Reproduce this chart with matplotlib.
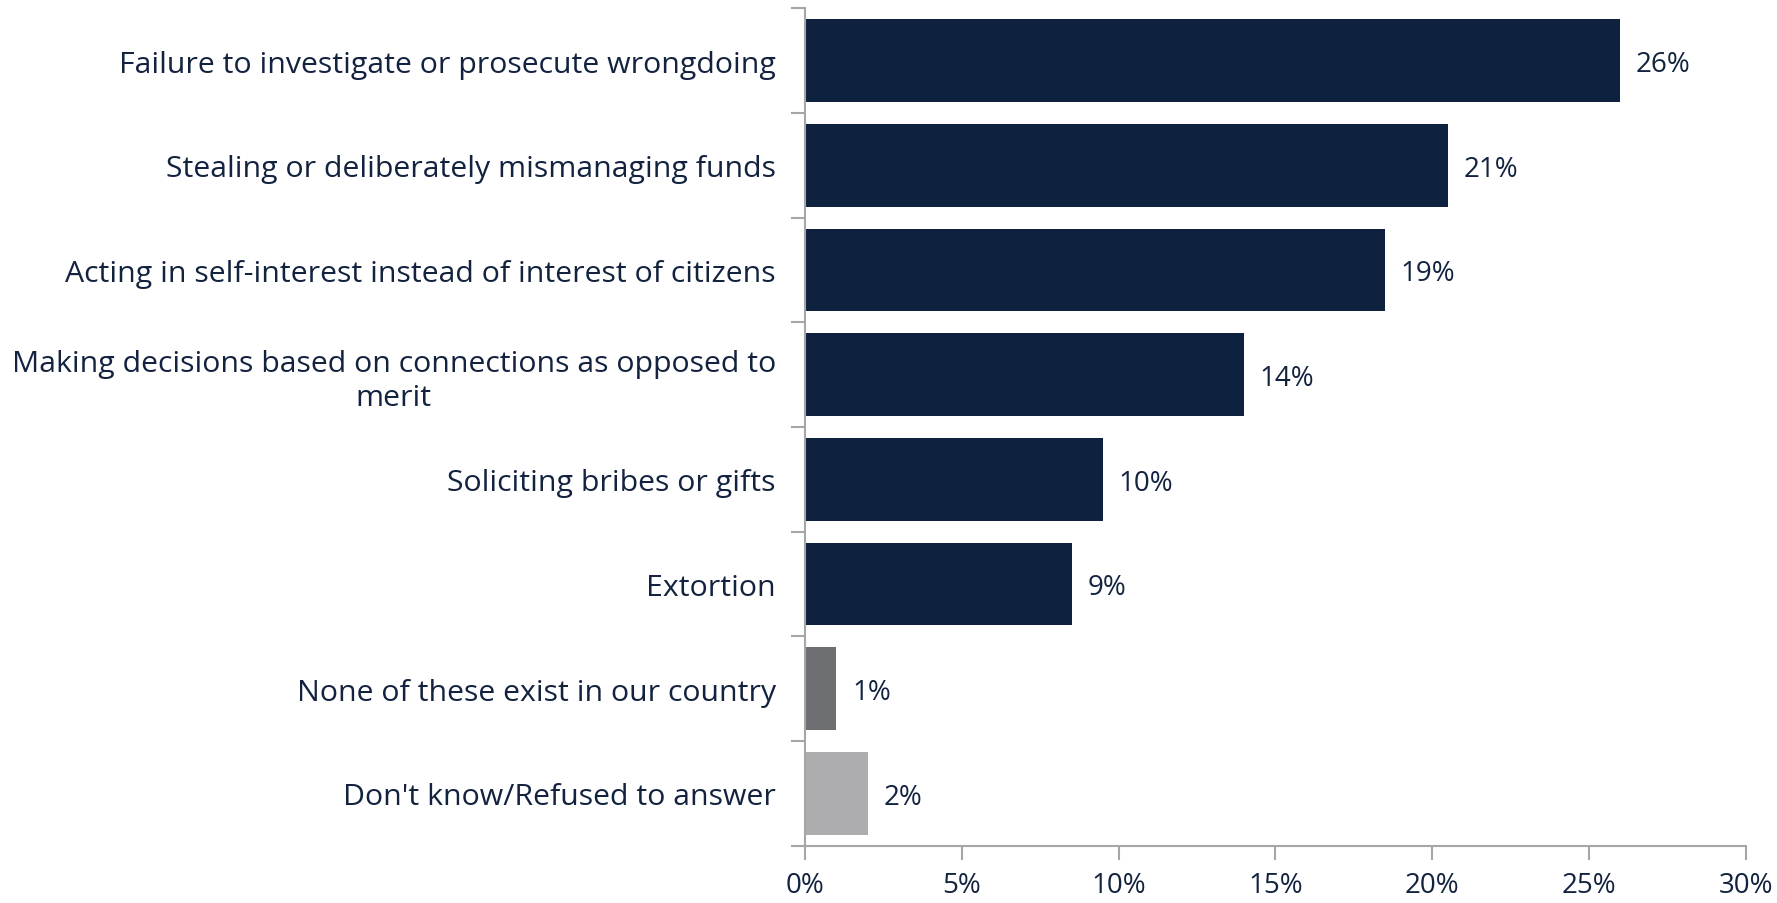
import matplotlib
matplotlib.use("Agg")
import matplotlib.pyplot as plt
from matplotlib.ticker import FuncFormatter

categories = [
    "Failure to investigate or prosecute wrongdoing",
    "Stealing or deliberately mismanaging funds",
    "Acting in self-interest instead of interest of citizens",
    "Making decisions based on connections as opposed to\nmerit",
    "Soliciting bribes or gifts",
    "Extortion",
    "None of these exist in our country",
    "Don't know/Refused to answer",
]
values = [26.0, 20.5, 18.5, 14.0, 9.5, 8.5, 1.0, 2.0]
labels = ["26%", "21%", "19%", "14%", "10%", "9%", "1%", "2%"]
colors = ["#0E2240"] * 6 + ["#6D6E71", "#ADADAF"]

txt = "#13233F"
axcol = "#A6A6A6"
plt.rcParams['font.family'] = ['Open Sans', 'DejaVu Sans']

fig = plt.figure(figsize=(17.77, 9.04), dpi=100)
ax = fig.add_axes([0.453, 0.0634, 0.9824 - 0.453, 0.9895 - 0.0634])

pos = list(range(len(categories)))
ax.barh(pos, values, height=0.79, color=colors)
ax.set_ylim(len(categories) - 0.5, -0.5)
ax.set_xlim(0, 30)

for p, v, l in zip(pos, values, labels):
    ax.text(v + 0.5, p + 0.03, l, va="center", ha="left", fontsize=20, color=txt)

ax.set_yticks([p + 0.5 for p in [-1] + pos])
ax.set_yticklabels([])
ax.set_yticks(pos, minor=True)
ax.set_yticklabels(categories, minor=True, fontsize=21.8, color=txt,
                   ha="right", multialignment="center", linespacing=1.2)
ax.tick_params(axis="y", which="minor", length=0, pad=21)
ax.tick_params(axis="y", which="major", length=10, color=axcol, width=1.5)

ax.set_xticks(range(0, 31, 5))
ax.xaxis.set_major_formatter(FuncFormatter(lambda x, _: f"{x:.0f}%"))
ax.tick_params(axis="x", length=10, color=axcol, width=1.5, labelsize=20,
               labelcolor=txt, pad=8)

for s in ["top", "right"]:
    ax.spines[s].set_visible(False)
for s in ["left", "bottom"]:
    ax.spines[s].set_color(axcol)
    ax.spines[s].set_linewidth(1.5)

fig.savefig("out.png", dpi=100)
